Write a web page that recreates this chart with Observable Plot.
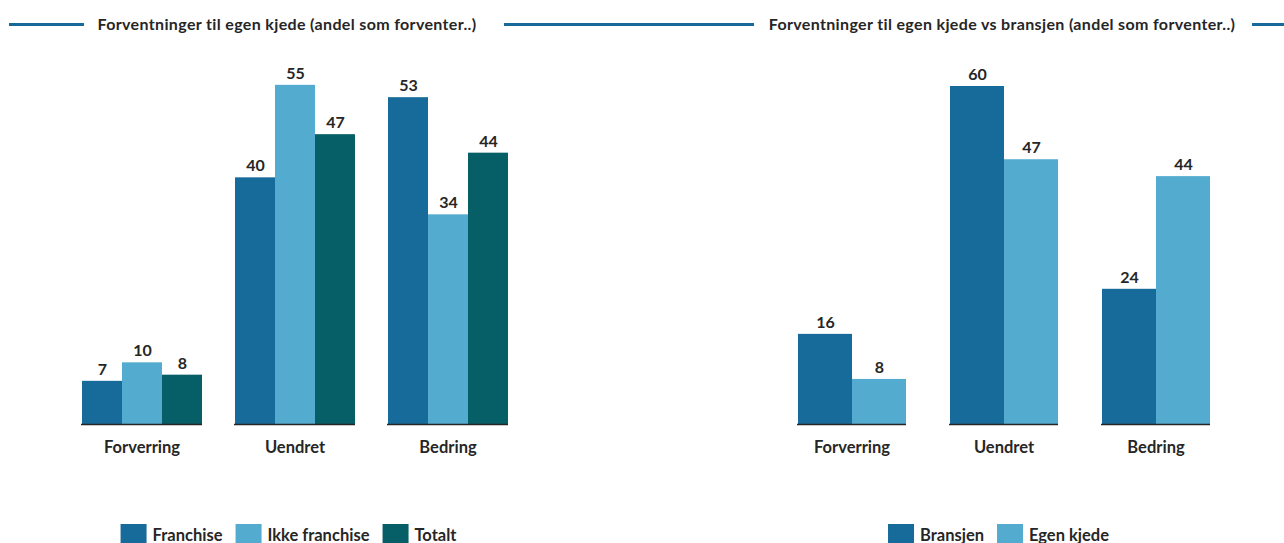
<!DOCTYPE html>
<html>
<head>
<meta charset="utf-8">
<script src="https://cdn.jsdelivr.net/npm/d3@7"></script>
<script src="https://cdn.jsdelivr.net/npm/@observablehq/plot@0.6"></script>
<style>
  html, body { margin: 0; padding: 0; background: #fff; }
  #root { position: relative; width: 1284px; height: 543px; overflow: hidden; font-family: Lato, "Liberation Sans", sans-serif; color: #262626; }
  .line { position: absolute; height: 3px; background: #17699a; top: 23px; }
  .title { position: absolute; top: 14px; font-weight: 700; font-size: 16px; letter-spacing: 0.35px; white-space: nowrap; transform: translateX(-50%); }
  .panel { position: absolute; top: 40px; }
  .legend { position: absolute; top: 524px; display: flex; align-items: flex-start; transform: translateX(-50%); font-weight: 700; font-size: 16.5px; white-space: nowrap; }
  .legend .sw { width: 26px; height: 26px; margin-right: 6px; }
  .legend .lab { margin-right: 13px; line-height: 18px; padding-top: 2px; }
</style>
</head>
<body>
<div id="root">
  <div class="line" style="left:9px;width:75px"></div>
  <div class="title" style="left:287px">Forventninger til egen kjede (andel som forventer..)</div>
  <div class="line" style="left:504px;width:250px"></div>
  <div class="title" style="left:1002px">Forventninger til egen kjede vs bransjen (andel som forventer..)</div>
  <div class="line" style="left:1252px;width:32px"></div>
  <div id="left" class="panel" style="left:0px"></div>
  <div id="right" class="panel" style="left:640px"></div>
  <div id="legL" class="legend" style="left:295px"></div>
  <div id="legR" class="legend" style="left:1005px"></div>
</div>
<script>
// ---- data ----
const categories = ["Forverring", "Uendret", "Bedring"];

const leftSeries = ["Franchise", "Ikke franchise", "Totalt"];
const leftFranchise = [7, 40, 53];
const leftIkkeFranchise = [10, 55, 34];
const leftTotalt = [8, 47, 44];
const leftColors = ["#176b9a", "#53abcf", "#065e66"];

const rightSeries = ["Bransjen", "Egen kjede"];
const rightBransjen = [16, 60, 24];
const rightEgenKjede = [8, 47, 44];
const rightColors = ["#176b9a", "#53abcf"];

// ---- build tables ----
function table(series, valueArrays) {
  const rows = [];
  categories.forEach((c, i) => {
    series.forEach((s, j) => rows.push({cat: c, series: s, value: valueArrays[j][i]}));
  });
  return rows;
}
const leftData = table(leftSeries, [leftFranchise, leftIkkeFranchise, leftTotalt]);
const rightData = table(rightSeries, [rightBransjen, rightEgenKjede]);

const textColor = "#262626";

function panel(data, series, colors, opts) {
  return Plot.plot({
    width: opts.width,
    height: 430,
    marginLeft: opts.ml,
    marginRight: opts.mr,
    marginTop: opts.mt,
    marginBottom: 46,
    style: {fontFamily: "Lato, 'Liberation Sans', sans-serif", color: textColor, background: "transparent"},
    fx: {domain: categories, paddingInner: opts.pi, paddingOuter: opts.pi / 2, label: null},
    x: {domain: series, padding: 0, axis: null},
    y: {domain: [0, 60], axis: null},
    color: {domain: series, range: colors},
    marks: [
      Plot.barY(data, {fx: "cat", x: "series", y: "value", fill: "series"}),
      Plot.text(data, {fx: "cat", x: "series", y: "value", text: d => String(d.value), dy: -11.5, fontSize: 16, fontWeight: 700, fill: textColor}),
      Plot.axisFx({anchor: "bottom", tickSize: 0, tickPadding: 17, fontSize: 16.5, fontWeight: 700, label: null, fill: textColor}),
      Plot.ruleY([0], {stroke: "#262626", strokeWidth: 1.3})
    ]
  });
}

document.getElementById("left").append(panel(leftData, leftSeries, leftColors, {width: 640, ml: 64, mr: 116, mt: 14, pi: 0.21}));
document.getElementById("right").append(panel(rightData, rightSeries, rightColors, {width: 644, ml: 135, mr: 51, mt: 46, pi: 0.28}));

function legend(id, series, colors) {
  const el = document.getElementById(id);
  series.forEach((s, i) => {
    const sw = document.createElement("div");
    sw.className = "sw";
    sw.style.background = colors[i];
    const lab = document.createElement("div");
    lab.className = "lab";
    lab.textContent = s;
    el.append(sw, lab);
  });
}
legend("legL", leftSeries, leftColors);
legend("legR", rightSeries, rightColors);
</script>
</body>
</html>
